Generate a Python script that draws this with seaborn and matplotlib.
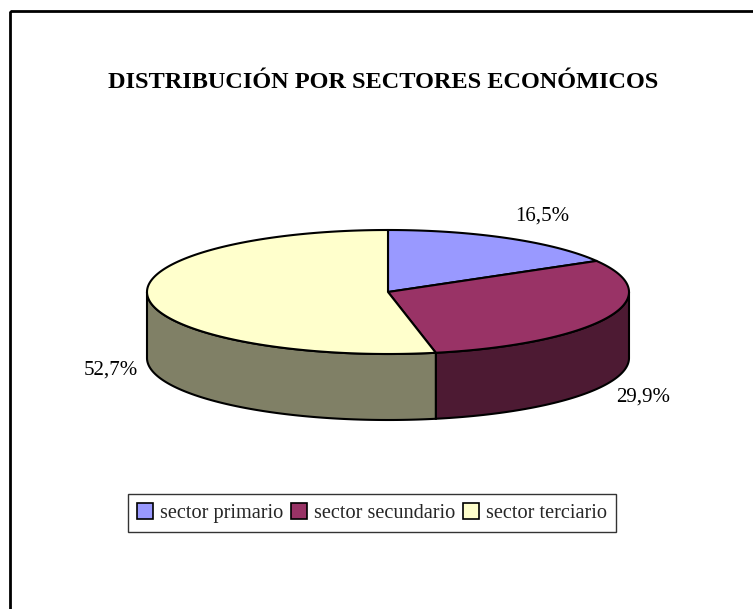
import numpy as np
import matplotlib
matplotlib.use("Agg")
import matplotlib.pyplot as plt
from matplotlib.patches import Polygon, Patch, Rectangle
import seaborn as sns

# Data
sectores = ["sector primario", "sector secundario", "sector terciario"]
porcentajes = [16.5, 29.9, 52.7]
colores = ["#9999FF", "#993366", "#FFFFCC"]
titulo = "DISTRIBUCIÓN POR SECTORES ECONÓMICOS"

sns.set_theme(style="white")
plt.rcParams["font.family"] = ["Liberation Serif", "DejaVu Serif"]

W, H = 753, 609
fig = plt.figure(figsize=(W / 100, H / 100), dpi=100)
ax = fig.add_axes([0, 0, 1, 1])
ax.set_xlim(0, W)
ax.set_ylim(H, 0)
ax.axis("off")

# Chart frame (runs off the right and bottom edges)
ax.add_patch(Rectangle((10, 11), 760, 620, fill=False, ec="black", lw=2, zorder=0))

# 3D pie geometry in pixel space
cx, cy, a, b, depth = 388, 292, 241, 62, 66


def shade(hex_color, f=0.5):
    r, g, bl = matplotlib.colors.to_rgb(hex_color)
    return (r * f, g * f, bl * f)


def pt(theta_deg, dy=0.0):
    t = np.radians(theta_deg)
    return cx + a * np.sin(t), cy - b * np.cos(t) + dy


total = sum(porcentajes)
starts = np.concatenate([[0], np.cumsum(porcentajes)[:-1]]) / total * 360
ends = np.cumsum(porcentajes) / total * 360

# Side walls: only the front half (90..270 deg clockwise from top) is visible
for s, e, c in zip(starts, ends, colores):
    lo, hi = max(s, 90), min(e, 270)
    if hi <= lo:
        continue
    th = np.linspace(lo, hi, 120)
    top = [pt(t) for t in th]
    bot = [pt(t, depth) for t in th[::-1]]
    ax.add_patch(Polygon(top + bot, closed=True, fc=shade(c), ec="black", lw=1.5, zorder=2))

# Top faces
for s, e, c in zip(starts, ends, colores):
    th = np.linspace(s, e, 200)
    verts = [(cx, cy)] + [pt(t) for t in th]
    ax.add_patch(Polygon(verts, closed=True, fc=c, ec="black", lw=1.5, joinstyle="round", zorder=3))

# Percentage labels
label_pos = [(542, 216), (643, 397), (111, 370)]
for v, (lx, ly) in zip(porcentajes, label_pos):
    txt = f"{v:.1f}%".replace(".", ",")
    ax.text(lx, ly, txt, ha="center", va="center", fontsize=15, color="black", zorder=5)

# Title
ax.text(383, 83, titulo, ha="center", va="center", fontsize=17.5, fontweight="bold", color="black")

# Legend
handles = [Patch(fc=c, ec="black", lw=1.2, label=n) for n, c in zip(sectores, colores)]
leg = fig.legend(handles=handles, loc="center", bbox_to_anchor=(372 / W, 1 - 513 / H), ncol=3,
                 frameon=True, fancybox=False, edgecolor="black", fontsize=14.6,
                 handlelength=0.8, handleheight=0.8, handletextpad=0.35, columnspacing=0.35,
                 borderpad=0.45, borderaxespad=0)
leg.get_frame().set_linewidth(1.0)

fig.savefig("out.png", dpi=100, facecolor="white")
